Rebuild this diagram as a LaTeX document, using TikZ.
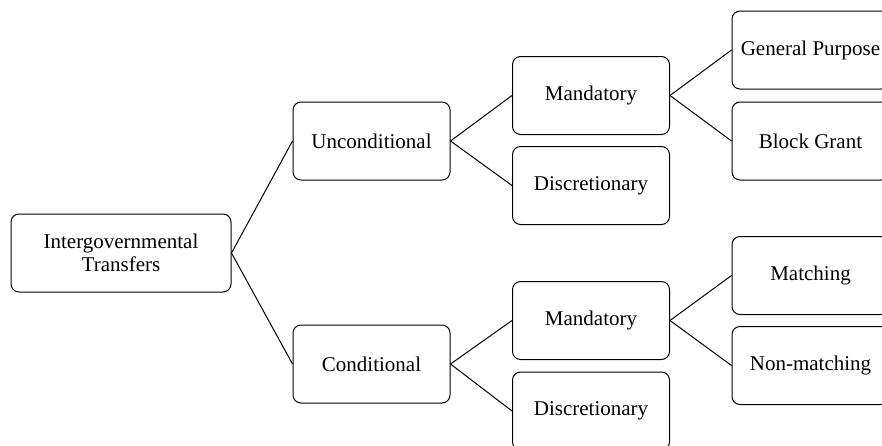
\documentclass[tikz,border=0pt]{standalone}
\usepackage{fontspec}
\setmainfont{Liberation Serif}
\begin{document}
\begin{tikzpicture}[x=1pt,y=-1pt,
  box/.style={draw, line width=1pt, rounded corners=8pt, minimum width=157pt, minimum height=78pt, inner sep=0pt, align=center, font=\fontsize{21}{23}\selectfont},
  link/.style={line width=1pt}]
\useasboundingbox (0,0) rectangle (882,445);
\clip (0,0) rectangle (882,445);
\node[box, minimum width=220pt] (root) at (121,253) {Intergovernmental\\Transfers};
\node[box] (unc) at (371.5,141) {Unconditional};
\node[box] (con) at (371.5,364) {Conditional};
\node[box] (m1) at (591,95.5) {Mandatory};
\node[box] (d1) at (591,185.5) {Discretionary};
\node[box] (m2) at (591,320.5) {Mandatory};
\node[box] (d2) at (591,411) {Discretionary};
\node[box] (gp) at (810.5,50) {General Purpose};
\node[box] (bg) at (810.5,141) {Block Grant};
\node[box] (mt) at (810.5,275.5) {Matching};
\node[box] (nm) at (810.5,365.5) {Non-matching};
\draw[link] (root.east) -- (unc.west);
\draw[link] (root.east) -- (con.west);
\draw[link] (unc.east) -- (m1.west);
\draw[link] (unc.east) -- (d1.west);
\draw[link] (con.east) -- (m2.west);
\draw[link] (con.east) -- (d2.west);
\draw[link] (m1.east) -- (gp.west);
\draw[link] (m1.east) -- (bg.west);
\draw[link] (m2.east) -- (mt.west);
\draw[link] (m2.east) -- (nm.west);
\end{tikzpicture}
\end{document}
